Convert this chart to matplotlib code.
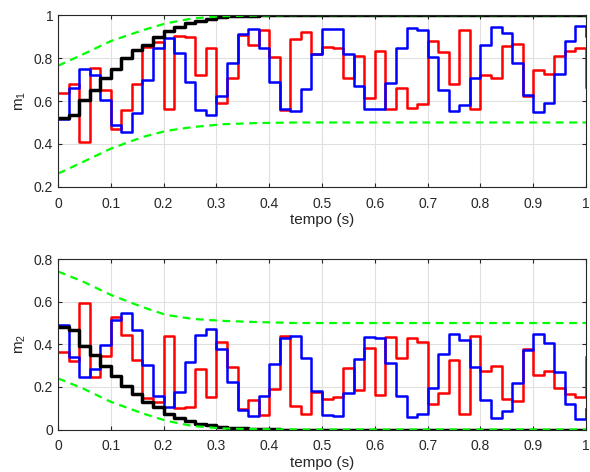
import numpy as np
import matplotlib.pyplot as plt

plt.rcParams['font.family'] = ['Liberation Sans', 'DejaVu Sans']
plt.rcParams['mathtext.fontset'] = 'custom'
plt.rcParams['mathtext.rm'] = 'Liberation Sans'
plt.rcParams['mathtext.it'] = 'Liberation Sans'

# time samples (step 0.02 s)
t = np.arange(51) * 0.02

m1_red = [0.635, 0.678, 0.409, 0.756, 0.650, 0.469, 0.557, 0.677, 0.852, 0.876,
          0.562, 0.904, 0.899, 0.720, 0.849, 0.591, 0.706, 0.908, 0.860, 0.930,
          0.806, 0.557, 0.891, 0.919, 0.821, 0.852, 0.848, 0.708, 0.810, 0.615,
          0.832, 0.562, 0.661, 0.568, 0.588, 0.879, 0.829, 0.677, 0.930, 0.562,
          0.723, 0.705, 0.855, 0.865, 0.624, 0.744, 0.728, 0.809, 0.832, 0.849,
          0.666]
m1_blue = [0.514, 0.661, 0.751, 0.720, 0.604, 0.490, 0.456, 0.542, 0.697, 0.845,
           0.895, 0.825, 0.687, 0.560, 0.534, 0.623, 0.779, 0.910, 0.935, 0.845,
           0.689, 0.565, 0.552, 0.658, 0.817, 0.933, 0.935, 0.821, 0.671, 0.562,
           0.565, 0.685, 0.845, 0.941, 0.929, 0.806, 0.649, 0.554, 0.580, 0.708,
           0.860, 0.946, 0.915, 0.779, 0.630, 0.549, 0.593, 0.728, 0.880, 0.949,
           0.902]
m1_black = [0.520, 0.535, 0.607, 0.650, 0.705, 0.751, 0.798, 0.837, 0.863, 0.899,
            0.925, 0.946, 0.961, 0.974, 0.984, 0.990, 0.994, 0.996, 0.998, 0.999] + [1.0] * 31

m2_red = [0.365, 0.323, 0.593, 0.248, 0.345, 0.530, 0.444, 0.326, 0.149, 0.130,
          0.439, 0.099, 0.104, 0.282, 0.151, 0.413, 0.295, 0.094, 0.139, 0.069,
          0.192, 0.439, 0.111, 0.075, 0.177, 0.145, 0.153, 0.291, 0.184, 0.381,
          0.163, 0.436, 0.338, 0.428, 0.413, 0.120, 0.171, 0.325, 0.072, 0.438,
          0.275, 0.298, 0.145, 0.133, 0.377, 0.255, 0.273, 0.197, 0.166, 0.153,
          0.340]
m2_blue = [0.491, 0.339, 0.248, 0.282, 0.397, 0.515, 0.549, 0.467, 0.303, 0.158,
           0.107, 0.177, 0.318, 0.444, 0.471, 0.376, 0.221, 0.092, 0.064, 0.158,
           0.309, 0.431, 0.439, 0.338, 0.181, 0.069, 0.064, 0.170, 0.330, 0.434,
           0.428, 0.314, 0.158, 0.059, 0.072, 0.197, 0.353, 0.447, 0.422, 0.294,
           0.138, 0.052, 0.088, 0.219, 0.375, 0.450, 0.406, 0.270, 0.119, 0.048,
           0.095]
m2_black = [0.483, 0.467, 0.394, 0.350, 0.298, 0.251, 0.205, 0.169, 0.130, 0.104,
            0.075, 0.056, 0.039, 0.028, 0.020, 0.014, 0.009, 0.005, 0.003, 0.002,
            0.001] + [0.0] * 30

# bounds (dashed green)
tb = [0, 0.047, 0.1, 0.161, 0.205, 0.256, 0.313, 0.37, 0.45, 1.0]
m1_up = [0.764, 0.817, 0.879, 0.930, 0.962, 0.985, 0.995, 0.998, 1.0, 1.0]
m1_lo = [0.262, 0.316, 0.378, 0.433, 0.461, 0.479, 0.492, 0.497, 0.5, 0.5]
m2_up = [0.742, 0.695, 0.632, 0.574, 0.538, 0.519, 0.510, 0.505, 0.5, 0.5]
m2_lo = [0.240, 0.193, 0.130, 0.075, 0.041, 0.016, 0.005, 0.002, 0.0, 0.0]

fig = plt.figure(figsize=(5.9, 4.72), dpi=100)
ax1 = fig.add_axes([0.0983, 0.604, 0.895, 0.364])
ax2 = fig.add_axes([0.0983, 0.090, 0.895, 0.361])

green = '#00ff00'
for ax, r, b, k, up, lo, ylim, yt, lab in [
        (ax1, m1_red, m1_blue, m1_black, m1_up, m1_lo, (0.2, 1), [0.2, 0.4, 0.6, 0.8, 1], '$\\mathregular{m_1}$'),
        (ax2, m2_red, m2_blue, m2_black, m2_up, m2_lo, (0, 0.8), [0, 0.2, 0.4, 0.6, 0.8], '$\\mathregular{m_2}$')]:
    ax.step(t, r, where='post', color='red', lw=1.8)
    ax.step(t, b, where='post', color='blue', lw=1.8)
    ax.step(t, k, where='post', color='black', lw=2.5)
    ax.plot(tb, up, '--', color=green, lw=1.6, dashes=(3.5, 2.5))
    ax.plot(tb, lo, '--', color=green, lw=1.6, dashes=(3.5, 2.5))
    ax.set_xlim(0, 1)
    ax.set_ylim(*ylim)
    ax.set_xticks(np.arange(0, 1.01, 0.1))
    ax.set_xticklabels(['0', '0.1', '0.2', '0.3', '0.4', '0.5', '0.6', '0.7', '0.8', '0.9', '1'])
    ax.set_yticks(yt)
    ax.set_yticklabels([('%g' % v) for v in yt])
    ax.grid(True, color='#e0e0e0', lw=0.8)
    ax.set_axisbelow(True)
    ax.tick_params(direction='in', top=True, right=True, length=3, labelsize=10,
                   colors='#262626', width=0.8)
    ax.tick_params(axis='x', pad=7)
    for s in ax.spines.values():
        s.set_color('#262626')
        s.set_linewidth(0.8)
    ax.set_xlabel('tempo (s)', fontsize=11, color='#262626', labelpad=2)
    ax.set_ylabel(lab, fontsize=11, color='#262626', labelpad=4)

fig.savefig('out.png', dpi=100)
